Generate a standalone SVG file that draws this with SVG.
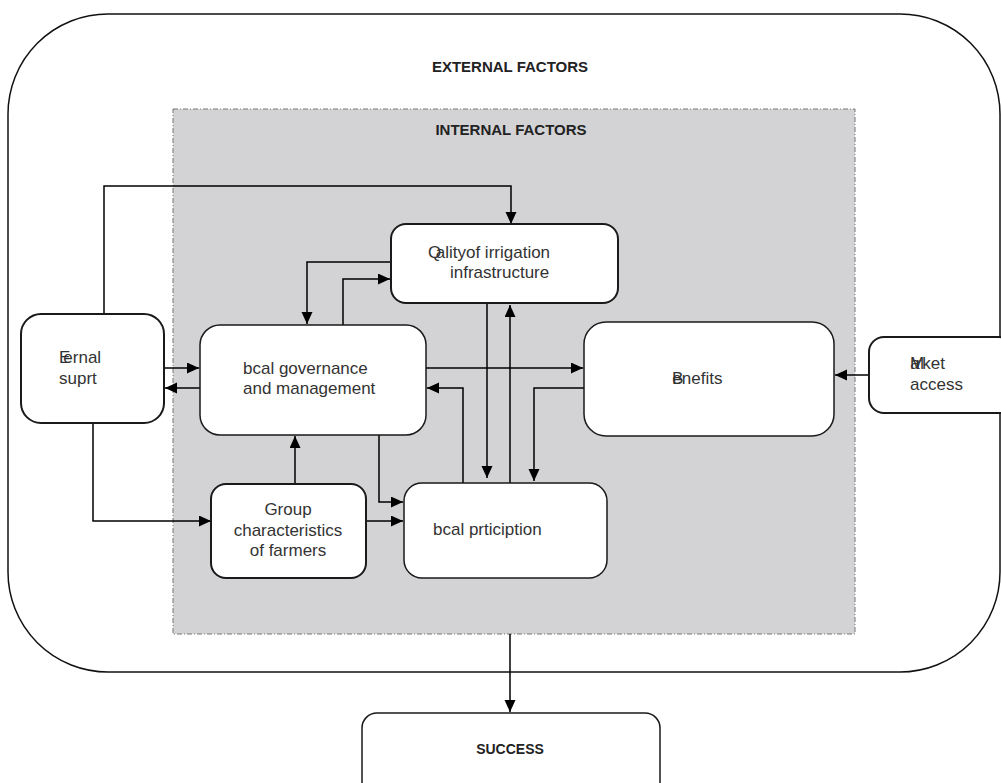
<svg xmlns="http://www.w3.org/2000/svg" width="1001" height="783" viewBox="0 0 1001 783">
<defs>
<marker id="ah" markerUnits="userSpaceOnUse" markerWidth="12" markerHeight="12" refX="12" refY="5.5" orient="auto">
<path d="M0,0 L12,5.5 L0,11 z" fill="#000"/>
</marker>
<style>
.box{fill:#fff;stroke:#1a1a1a;stroke-width:1.5}
.bold{stroke-width:2}
.t{font-family:"Liberation Sans",Arial,sans-serif;font-size:17px;fill:#333}
.h{font-family:"Liberation Sans",Arial,sans-serif;font-size:15px;font-weight:bold;fill:#222;text-anchor:middle}
.c{fill:none;stroke:#000;stroke-width:1.5}
.a{marker-end:url(#ah)}
</style>
</defs>
<rect width="1001" height="783" fill="#fff"/>
<g id="external">
<rect x="8" y="14" width="992" height="658" rx="100" ry="100" fill="#fff" stroke="#111" stroke-width="1.5"/>
<text class="h" x="510" y="72">EXTERNAL FACTORS</text>
</g>
<g id="internal">
<rect x="173" y="109" width="682" height="525" fill="#d3d3d5" stroke="#777" stroke-width="1" stroke-dasharray="5 2 1 2"/>
<text class="h" x="511" y="135">INTERNAL FACTORS</text>
</g>
<g id="connectors">
<path class="c a" d="M104,314 V186 H511 V224"/>
<path class="c a" d="M391,262 H307 V324"/>
<path class="c a" d="M343,325 V279 H390"/>
<path class="c a" d="M487,303 V478"/>
<path class="c a" d="M510,483 V305"/>
<path class="c a" d="M426,368 H583"/>
<path class="c a" d="M463,483 V388 H427"/>
<path class="c a" d="M584,388 H534 V481"/>
<path class="c a" d="M164,368 H199"/>
<path class="c a" d="M200,388 H165"/>
<path class="c a" d="M869,375 H835"/>
<path class="c a" d="M93,423 V521 H211"/>
<path class="c a" d="M295,484 V436"/>
<path class="c a" d="M379,435 V502 H403"/>
<path class="c a" d="M367,521 H403"/>
<path class="c a" d="M510,634 V712"/>
</g>
<g id="quality">
<rect class="box bold" x="391" y="224" width="227" height="79" rx="15"/>
<text class="t" x="428" y="258" dx="0 -5.5">Qalityof irrigation</text>
<text class="t" x="450" y="278">infrastructure</text>
</g>
<g id="external-support">
<rect class="box bold" x="21" y="314" width="143" height="109" rx="20"/>
<text class="t" x="59" y="363" dx="0 -7">Eernal</text>
<text class="t" x="59" y="384">suprt</text>
</g>
<g id="governance">
<rect class="box" x="200" y="325" width="226" height="110" rx="20"/>
<text class="t" x="243" y="374">bcal governance</text>
<text class="t" x="243" y="394">and management</text>
</g>
<g id="benefits">
<rect class="box" x="584" y="322" width="250" height="114" rx="22"/>
<text class="t" x="672" y="384" dx="0 -11">Benefits</text>
</g>
<g id="market">
<rect class="box bold" x="869" y="337" width="145" height="76" rx="15"/>
<text class="t" x="910" y="369" dx="0 -14 -4 1">Market</text>
<text class="t" x="910" y="390">access</text>
</g>
<g id="group">
<rect class="box bold" x="211" y="484" width="155" height="94" rx="15"/>
<text class="t" x="288" y="515" text-anchor="middle">Group</text>
<text class="t" x="288" y="536" text-anchor="middle">characteristics</text>
<text class="t" x="288" y="556" text-anchor="middle">of farmers</text>
</g>
<g id="participation">
<rect class="box" x="404" y="483" width="203" height="95" rx="18"/>
<text class="t" x="433" y="535">bcal prticiption</text>
</g>
<g id="success">
<rect class="box" x="362" y="713" width="298" height="90" rx="15"/>
<text class="h" x="510" y="754" style="font-size:14px">SUCCESS</text>
</g>
</svg>
